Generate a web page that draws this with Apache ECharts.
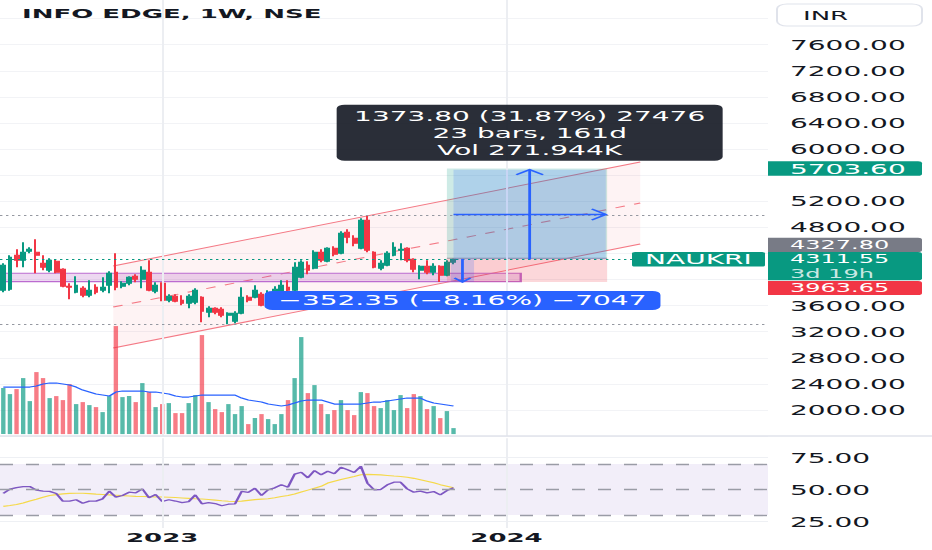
<!DOCTYPE html>
<html><head><meta charset="utf-8">
<script src="https://cdn.jsdelivr.net/npm/echarts@6/dist/echarts.min.js"></script>
<style>
html,body{margin:0;padding:0;background:#fff;overflow:hidden;width:932px;height:550px}
#c{width:466px;height:550px;transform:scaleX(2);transform-origin:0 0}
</style></head><body><div id="c"></div>
<script>
// ---------- categories (weekly bars) ----------
const weekStart = '2022-07-18';
const barCount = 116;
const categories = [];
(function(){const t0=Date.parse(weekStart+'T00:00:00Z');for(let i=0;i<barCount;i++)categories.push(new Date(t0+i*7*86400000).toISOString().slice(0,10));})();
const yearStarts = categories.filter(d => d.slice(5,7)==='01' && +d.slice(8,10) <= 7);

// ---------- price data ----------
const open  = [3836,3850,4372,4296,4434,4418,4250,4142,4280,4158, 3897,3805,3866,3759,3882,3836,3912,4112,3897,3943, 4050,4004,4112,3820,3943,3682,3743,3682,3636,3651, 3728,3498,3559,3544,3452,3360,3483,3728,3728,3774, 3605,3789,3805,3882,3836,4035,4219,4173,4418,4280, 4480,4403,4725,4633,4480,4909,4418,4173,4219,4372, 4449,4480,4311,4142,4204,4112,4204,4066,4265];
const close = [4219,4342,4296,4418,4465,4372,4188,4296,4112,3897, 3882,3912,3759,3836,3805,3882,4096,3882,3943,4035, 4004,4142,3836,3912,3682,3743,3667,3636,3743,3836, 3513,3559,3498,3452,3483,3483,3728,3682,3836,3605, 3789,3851,3912,3836,4188,4265,4142,4418,4296,4480, 4388,4710,4649,4557,4909,4449,4188,4250,4403,4495, 4465,4296,4158,4204,4112,4204,4066,4265,4311.55];
const high  = [4250,4372,4465,4572,4495,4618,4372,4326,4311,4173, 3943,4050,3897,3989,3928,4035,4127,4403,3974,4050, 4081,4204,4296,3958,3958,3774,3774,3759,3774,3866, 3743,3590,3575,3575,3498,3513,3882,3759,3912,3805, 3836,3897,3989,3989,4265,4296,4280,4449,4465,4495, 4511,4741,4771,4679,4940,4986,4434,4296,4434,4572, 4557,4495,4326,4219,4296,4250,4219,4296,4327.8];
const low   = [3805,3830,4188,4188,4403,4096,4142,4112,4096,3882, 3697,3789,3728,3728,3774,3805,3789,3836,3866,3912, 3958,3866,3820,3789,3667,3651,3651,3605,3559,3621, 3345,3421,3467,3421,3314,3329,3467,3651,3713,3590, 3590,3774,3789,3713,3820,4020,4081,4158,4265,4265, 4357,4388,4557,4511,4465,4418,4173,4142,4204,4357, 4296,4265,4112,4004,4081,4066,3963.65,4050,4234];
const volume   = [18.4,16.0,18.0,22.4,13.2,24.8,22.4,14.4,15.2,13.6, 20.0,12.0,12.8,11.6,10.8,8.8,15.2,43.2,14.8,15.2, 12.8,20.4,16.8,10.8,12.0,12.4,8.4,8.4,12.4,15.6, 39.6,12.8,10.0,8.8,12.0,8.0,11.2,4.0,6.4,8.0, 6.0,4.0,8.0,13.6,22.4,38.8,16.4,19.6,12.0,8.0, 9.6,13.6,9.6,7.6,16.8,16.4,11.2,10.4,13.6,9.6, 15.6,10.4,16.0,15.2,10.0,11.2,6.4,9.2,2.4];
const volumeMA = [18.8,18.8,18.8,18.8,18.8,19.2,20.0,20.4,20.4,20.0, 19.6,18.8,17.6,16.8,16.0,15.6,15.2,16.8,17.2,17.2, 17.2,17.2,16.8,16.8,16.4,16.0,15.2,14.8,14.8,15.2, 15.6,15.6,15.6,15.6,15.6,15.6,14.4,13.6,13.2,12.8, 12.0,11.6,11.2,11.6,12.4,13.2,13.6,13.6,13.6,12.8, 12.0,12.0,12.0,12.0,12.0,12.4,12.8,12.8,13.2,13.6, 14.0,14.4,14.4,14.4,13.2,12.4,12.0,11.6,11.2];
const rsi   = [47,50.3,51.5,52.3,52.3,49.5,48.7,48.5,46.9,40.9, 40.9,42,39.3,40.9,40.9,42.7,48.7,44,45.3,47.9, 47.4,50.5,43.5,46.1,40.6,42,41,39.8,40.5,45.8, 38.8,39.8,39,37.3,38.5,38.8,48.5,47.8,51,45.3, 49.8,51.3,53.7,51.8,62,63.5,59.1,64.8,61.5,64.3, 62.3,67.4,65.4,63.3,68.2,54.9,49.8,50,53.7,55.7, 55.7,50.5,47.9,48.7,47.4,48.4,45.8,49.2,51.3];
const rsiMA = [36.8,37.5,38.3,39.5,41,42.4,44,45.3,46,46.6, 47,47.1,47.1,46.8,46.4,46.1,45.8,45.5,45.2,44.9, 44.6,44.5,44.4,44.2,44.1,44,43.7,43.4,43.1,42.8, 42.6,42.2,41.7,41.2,40.8,40.6,40.9,41.5,42.1,42.5, 42.8,43.6,44.5,45.3,46.5,48,49.5,51,52.5,55, 56.5,57.8,59,60.2,61.5,61.8,61.6,61.4,61,60.5, 60.2,59.5,58.7,57.6,56.5,55.3,53.8,52.6,51.3];

// ---------- axis ticks ----------
const priceTicksHidden = [1600,4000,4400,5600,8000,8400];
const rsiTicks = [25,50,75];
const rsiBand = [30,70];
const rsiDashed = [70,50,30];

// ---------- levels & drawings (data space: bar index, price) ----------
const hLevels = [4986, 3314];
const lastPrice = 4311.55;
const channelX = [16.6, 96.2];
const channelUpper = [4208, 5802];
const channelLower = [2950, 4545];
const zoneX = [-0.5, 78.15];
const zonePrice = [3967, 4096];
const positionX = [67, 91.2];
const positionPrices = [5703.60, 4327.80, 3963.65]; // target, entry, stop
const measureUpX = [68, 91];
const measureUpPrice = [4310, 5683.8];
const measureDownX = [67.6, 71.1];
const measureDownPrice = [4316, 3963.65];
const measureUpText = ['1373.80 (31.87%) 27476','23 bars, 161d','Vol 271.944K'];
const measureDownText = '\u2212352.35 (\u22128.16%) \u22127047';
const symbolName = 'NAUKRI';
const countdown = '3d 19h';
const titleText = 'INFO EDGE, 1W, NSE';

const GREEN='#089981', RED='#f23645', BLUE='#2962ff';
const FONT='"DejaVu Sans", sans-serif';
const chart = echarts.init(document.getElementById('c'), null, {renderer:'svg', width:466, height:550});

const candleData = open.map((o,i)=>[o, close[i], low[i], high[i]]);
const volData = volume.map((v,i)=>({value:v, itemStyle:{color: close[i]>=open[i] ? 'rgba(8,153,129,0.68)' : 'rgba(242,54,69,0.65)'}}));

function H(api){ const bw=api.size([1,0])[0]; const x0=api.coord([0,4000])[0]; return {X:f=>x0+f*bw, Y:p=>api.coord([0,p])[1]}; }
function L(x1,y1,x2,y2,stroke,w,dash){ return {type:'line', shape:{x1,y1,x2,y2}, style:{stroke, lineWidth:w, lineDash:dash||null}}; }
function PL(pts,stroke,w){ return {type:'polyline', shape:{points:pts}, style:{stroke, lineWidth:w, fill:null}}; }

const yearLines = yearStarts.map(d=>({xAxis:d, lineStyle:{color:'#eceef2', width:1, type:'solid'}}));

const option = {
  animation:false,
  grid:[
    {left:0, top:-7.5, width:384, height:443.6, outerBoundsMode:'none'},
    {left:0, top:438.3, width:384, height:89.6, outerBoundsMode:'none'}
  ],
  xAxis:[
    {type:'category', gridIndex:0, data:categories, axisLine:{show:false}, axisTick:{show:false}, axisLabel:{show:false}, splitLine:{show:false}},
    {type:'category', gridIndex:1, data:categories, axisLine:{show:false}, axisTick:{show:false}, splitLine:{show:false},
     axisLabel:{interval:(i,v)=>yearStarts.includes(v), formatter:v=>v.slice(0,4), fontFamily:FONT, fontWeight:'bold', fontSize:13, color:'#131722', margin:3}}
  ],
  yAxis:[
    {type:'value', gridIndex:0, position:'right', min:1600, max:8400, interval:400, axisLine:{show:false}, axisTick:{show:false},
     splitLine:{lineStyle:{color:'#f2f3f6', width:1}},
     axisLabel:{formatter:v=>priceTicksHidden.includes(v)?'':v.toFixed(2), fontFamily:FONT, fontSize:14, color:'#131722', margin:11}},
    {type:'value', gridIndex:0, min:-0.8, max:176.6, show:false, splitLine:{show:false}},
    {type:'value', gridIndex:1, position:'right', min:20, max:90, interval:5, axisLine:{show:false}, axisTick:{show:false}, splitLine:{show:false},
     axisLabel:{formatter:v=>rsiTicks.includes(v)?v.toFixed(2):'', fontFamily:FONT, fontSize:14, color:'#131722', margin:11}}
  ],
  series:[
    {type:'custom', name:'channel', xAxisIndex:0, yAxisIndex:0, silent:true, z:1, data:[[0,4000]],
     renderItem:(p,api)=>{const {X,Y}=H(api);const x0=X(channelX[0]),x1=X(channelX[1]);
       const u0=Y(channelUpper[0]),u1=Y(channelUpper[1]),l0=Y(channelLower[0]),l1=Y(channelLower[1]);
       return {type:'group',children:[
         {type:'polygon',shape:{points:[[x0,u0],[x1,u1],[x1,l1],[x0,l0]]},style:{fill:'rgba(242,54,69,0.06)'}},
         L(x0,u0,x1,u1,'#f47985',1), L(x0,l0,x1,l1,'#f47985',1), L(x0,(u0+l0)/2,x1,(u1+l1)/2,'#f47985',1,[5,5])]};}},
    {type:'custom', name:'zone', xAxisIndex:0, yAxisIndex:0, silent:true, z:1, data:[[0,4000]],
     renderItem:(p,api)=>{const {X,Y}=H(api);const xa=X(zoneX[0]),xb=X(zoneX[1]),ya=Y(zonePrice[1]),yb=Y(zonePrice[0]);
       return {type:'rect',shape:{x:xa,y:ya,width:xb-xa,height:yb-ya},style:{fill:'rgba(156,39,176,0.18)',stroke:'#bb6bd0',lineWidth:1.2}};}},
    {type:'bar', name:'Volume', xAxisIndex:0, yAxisIndex:1, data:volData, barWidth:'66%', z:2, silent:true,
     markLine:{silent:true, symbol:['none','none'], label:{show:false}, data:yearLines}},
    {type:'line', name:'Vol MA', xAxisIndex:0, yAxisIndex:1, data:volumeMA, symbol:'none', z:2, lineStyle:{color:BLUE, width:1.1}, silent:true},
    {type:'candlestick', name:'Price', xAxisIndex:0, yAxisIndex:0, data:candleData, barWidth:'70%', z:3, silent:true,
     itemStyle:{color:GREEN, color0:RED, borderColor:GREEN, borderColor0:RED, borderWidth:1},
     markLine:{silent:true, symbol:['none','none'], label:{show:false}, data:[
       ...hLevels.map(v=>({yAxis:v, lineStyle:{color:'#9598a1', width:1, type:[1.2,1.8]}})),
       {yAxis:lastPrice, lineStyle:{color:GREEN, width:1, type:[1.2,1.8]}}]}},
    {type:'custom', name:'position', xAxisIndex:0, yAxisIndex:0, silent:true, z:4, data:[[0,4000]],
     renderItem:(p,api)=>{const {X,Y}=H(api);const xa=X(positionX[0]),xb=X(positionX[1]);
       const yt=Y(positionPrices[0]),ye=Y(positionPrices[1]),ys=Y(positionPrices[2]);
       return {type:'group',children:[
         {type:'rect',shape:{x:xa,y:yt,width:xb-xa,height:ye-yt},style:{fill:'rgba(8,153,129,0.2)'}},
         {type:'rect',shape:{x:xa,y:ye,width:xb-xa,height:ys-ye},style:{fill:'rgba(242,54,69,0.2)'}},
         L(xa,ye,xb,ye,'#9598a1',1)]};}},
    {type:'custom', name:'measure', xAxisIndex:0, yAxisIndex:0, silent:true, z:5, data:[[0,4000]],
     renderItem:(p,api)=>{const {X,Y}=H(api);
       const xa=X(measureUpX[0]),xb=X(measureUpX[1]),yb=Y(measureUpPrice[0]),yt=Y(measureUpPrice[1]);
       const xm=(xa+xb)/2, ym=(yt+yb)/2;
       const da=X(measureDownX[0]),db=X(measureDownX[1]),dt=Y(measureDownPrice[0]),dbm=Y(measureDownPrice[1]);const dm=(da+db)/2;
       return {type:'group',children:[
         {type:'rect',shape:{x:xa,y:yt,width:xb-xa,height:yb-yt},style:{fill:'rgba(41,98,255,0.18)'}},
         L(xm,yb,xm,yt,BLUE,1.4), PL([[xm-6.7,yt+5],[xm,yt],[xm+6.7,yt+5]],BLUE,1.4),
         L(xa,ym,xb,ym,BLUE,1.4), PL([[xb-7,ym-5.5],[xb,ym],[xb-7,ym+5.5]],BLUE,1.4),
         {type:'rect',shape:{x:da,y:dt,width:db-da,height:dbm-dt},style:{fill:'rgba(41,98,255,0.18)'}},
         L(dm,dt,dm,dbm,BLUE,1.4), PL([[dm-4,dbm-4],[dm,dbm],[dm+4,dbm-4]],BLUE,1.4)]};}},
    {type:'line', name:'RSI MA', xAxisIndex:1, yAxisIndex:2, data:rsiMA, symbol:'none', z:3, lineStyle:{color:'#f5d94a', width:1.1}, silent:true,
     markArea:{silent:true, itemStyle:{color:'rgba(126,87,194,0.1)'}, data:[[{yAxis:rsiBand[0]},{yAxis:rsiBand[1]}]]}},
    {type:'line', name:'RSI', xAxisIndex:1, yAxisIndex:2, data:rsi, symbol:'none', z:4, lineStyle:{color:'#7e57c2', width:1.3}, silent:true,
     markLine:{silent:true, symbol:['none','none'], label:{show:false}, data:[
       {yAxis:75, lineStyle:{color:'#eef0f4', width:1, type:'solid'}},
       {yAxis:25, lineStyle:{color:'#eef0f4', width:1, type:'solid'}},
       ...rsiDashed.map(v=>({yAxis:v, lineStyle:{color:'#9a9ca6', width:1.4, type:[6.5,6.5]}})),
       ...yearLines]}}
  ]
};
chart.setOption(option);

// ---------- overlay labels positioned from the axes ----------
const px = i => chart.convertToPixel({xAxisIndex:0}, categories[i]);
const bwp = px(1)-px(0);
const fx = f => px(0)+f*bwp;
const py = p => chart.convertToPixel({yAxisIndex:0}, p);
const AX=384, AW=77, TX=395;
const F14='14px "DejaVu Sans"', F12='12px "DejaVu Sans"';
const yLast=py(lastPrice), gTop=yLast-7.3, S=14.2;
const yTgt=py(positionPrices[0]);
const tipCx=fx((measureUpX[0]+measureUpX[1])/2), tipBottom=py(measureUpPrice[1])-9;
const dnCx=fx((measureDownX[0]+measureDownX[1])/2), dnTop=py(measureDownPrice[1])+9;
function T(x,y,text,font,fill,align){return {type:'text',x,y,z:101,style:{text,font,fill,verticalAlign:'middle',align:align||'left'}};}
function R(x,y,w,h,fill,r,stroke){return {type:'rect',z:100,shape:{x,y,width:w,height:h,r:r||0},style:{fill,stroke:stroke||null,lineWidth:1}};}
chart.setOption({graphic:[
  R(0,435.2,466,1.6,'#e0e3eb'),
  T(11,14,titleText,'bold 13px "DejaVu Sans"','#131722'),
  R(388.5,4,72.5,22,'#ffffff',5,'#e0e3eb'),
  T(401.5,15.5,'INR','13px "DejaVu Sans"','#131722'),
  R(AX,yTgt-7.2,AW,14.6,GREEN,[0,2,2,0]), T(TX,yTgt+0.2,positionPrices[0].toFixed(2),F14,'#fff'),
  R(AX,gTop-S,AW,S,'#787b86',[0,2,2,0]), T(TX,gTop-S/2,positionPrices[1].toFixed(2),F12,'#fff'),
  R(AX,gTop,AW,2*S,GREEN,[0,2,2,0]), T(TX,gTop+S/2,lastPrice.toFixed(2),F12,'#fff'), T(TX,gTop+1.5*S,countdown,F12,'rgba(255,255,255,0.8)'),
  R(AX,gTop+2*S+0.6,AW,S,RED,[0,2,2,0]), T(TX,gTop+2.5*S+0.6,positionPrices[2].toFixed(2),F12,'#fff'),
  R(316,yLast-7.2,66.5,14.5,GREEN,1.5), T(349.2,yLast+0.2,symbolName,F14,'#fff','center'),
  R(tipCx-96.5,tipBottom-56,193,56,'rgba(19,23,34,0.9)',4),
  {type:'text',x:tipCx,y:tipBottom-28,z:101,style:{text:measureUpText.join('\n'),font:F14,fill:'#fff',align:'center',verticalAlign:'middle',lineHeight:17}},
  R(dnCx-99,dnTop,198,19,BLUE,4),
  T(dnCx,dnTop+9.5,measureDownText,F14,'#fff','center')
]});
</script></body></html>
